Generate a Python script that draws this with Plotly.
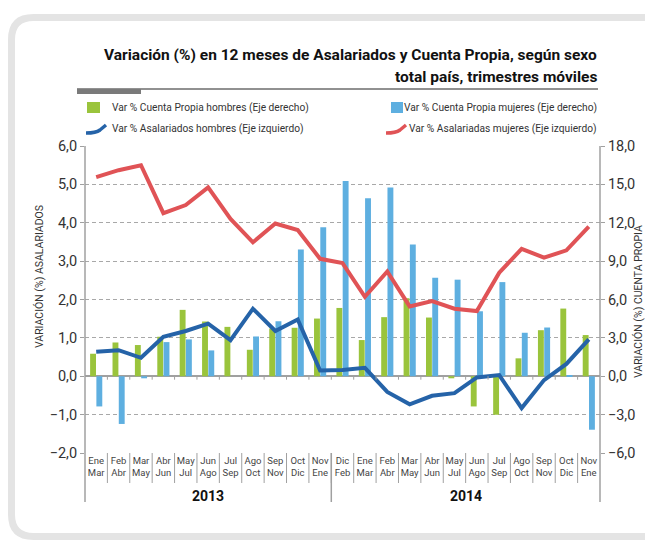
import plotly.graph_objects as go

# ---------------- data ----------------
mes_ini = ["Ene", "Feb", "Mar", "Abr", "May", "Jun", "Jul", "Ago", "Sep", "Oct", "Nov",
           "Dic", "Ene", "Feb", "Mar", "Abr", "May", "Jun", "Jul", "Ago", "Sep", "Oct", "Nov"]
mes_fin = ["Mar", "Abr", "May", "Jun", "Jul", "Ago", "Sep", "Oct", "Nov", "Dic", "Ene",
           "Feb", "Mar", "Abr", "May", "Jun", "Jul", "Ago", "Sep", "Oct", "Nov", "Dic", "Ene"]
years = ["2013", "2014"]
year_counts = [11, 12]

# Left axis (Asalariados)
asal_hombres = [0.64, 0.68, 0.48, 1.03, 1.18, 1.37, 0.94, 1.76, 1.18, 1.48, 0.15, 0.16,
                0.22, -0.41, -0.73, -0.51, -0.44, -0.03, 0.03, -0.83, -0.10, 0.32, 0.96]
asal_mujeres = [5.19, 5.37, 5.50, 4.25, 4.46, 4.92, 4.10, 3.49, 3.98, 3.81, 3.06, 2.95,
                2.07, 2.73, 1.82, 1.96, 1.76, 1.70, 2.70, 3.32, 3.09, 3.28, 3.90]
# Right axis (Cuenta Propia)
cp_hombres = [1.76, 2.64, 2.44, 3.09, 5.19, 4.28, 3.86, 2.07, 3.73, 3.79, 4.51, 5.34,
              2.83, 4.62, 6.10, 4.59, -0.16, -2.36, -3.01, 1.40, 3.60, 5.29, 3.22]
cp_mujeres = [-2.36, -3.73, -0.16, 2.67, 2.88, 2.02, 0.0, 3.11, 4.30, 9.91, 11.64, 15.27,
              13.92, 14.75, 10.29, 7.70, 7.55, 5.08, 7.36, 3.40, 3.81, 0.10, -4.18]

left_range = [-2, 6]
right_range = [-6, 18]

title_l1 = "Variación (%) en 12 meses de Asalariados y Cuenta Propia, según sexo"
title_l2 = "total país, trimestres móviles"
leg_names = ["Var % Cuenta Propia hombres (Eje derecho)",
             "Var % Cuenta Propia mujeres (Eje derecho)",
             "Var % Asalariados hombres (Eje izquierdo)",
             "Var % Asalariadas mujeres (Eje izquierdo)"]

# ---------------- styling ----------------
FONT = "Roboto, Liberation Sans, sans-serif"
GREEN = "#9ac43c"
LBLUE = "#5eafe0"
DBLUE = "#2563a8"
RED = "#e05356"
GRID = "#a8a8a8"
AX = "#a0a0a0"

# page body adds an 8px offset; figure sized to fill the remaining window
OFF = 8
W, H = 653 - OFF, 540 - OFF
PLOT_X0, PLOT_X1, PLOT_Y0, PLOT_Y1 = 85, 600, 146, 453   # window pixels
L, T = PLOT_X0 - OFF, PLOT_Y0 - OFF
R, B = W - (PLOT_X1 - OFF), H - (PLOT_Y1 - OFF)
PW, PH = PLOT_X1 - PLOT_X0, PLOT_Y1 - PLOT_Y0


def px(x):
    return (x - PLOT_X0) / PW


def py(y):
    return (PLOT_Y1 - y) / PH


n = len(mes_ini)
xs = list(range(n))

fig = go.Figure()
fig.add_trace(go.Bar(x=xs, y=cp_hombres, name=leg_names[0], marker_color=GREEN,
                     marker_line_width=0, yaxis="y"))
fig.add_trace(go.Bar(x=xs, y=cp_mujeres, name=leg_names[1], marker_color=LBLUE,
                     marker_line_width=0, yaxis="y"))
fig.add_trace(go.Scatter(x=xs, y=asal_hombres, name=leg_names[2], mode="lines",
                         line=dict(color=DBLUE, width=4), yaxis="y2"))
fig.add_trace(go.Scatter(x=xs, y=asal_mujeres, name=leg_names[3], mode="lines",
                         line=dict(color=RED, width=4), yaxis="y2"))

shapes = []
annotations = []


def note(x, y, text, font, xref="paper", xanchor="center", angle=0):
    annotations.append(dict(x=x, y=y, xref=xref, yref="paper", text=text,
                            showarrow=False, font=font, xanchor=xanchor,
                            yanchor="middle", textangle=angle))


# frame
fx0, fy0, fy1, rr = 11.5, 17.5, 536.5, 22
path = (f"M {px(700)},{py(fy0)} L {px(fx0 + rr)},{py(fy0)} "
        f"Q {px(fx0)},{py(fy0)} {px(fx0)},{py(fy0 + rr)} "
        f"L {px(fx0)},{py(fy1 - rr)} Q {px(fx0)},{py(fy1)} {px(fx0 + rr)},{py(fy1)} "
        f"L {px(700)},{py(fy1)}")
shapes.append(dict(type="path", xref="paper", yref="paper", path=path,
                   line=dict(color="#e4e4e4", width=7), layer="below"))

# title rule
shapes.append(dict(type="line", xref="paper", yref="paper", x0=px(77), x1=px(598),
                   y0=py(89), y1=py(89), line=dict(color="#222", width=1)))
shapes.append(dict(type="rect", xref="paper", yref="paper", x0=px(77), x1=px(141),
                   y0=py(94), y1=py(89), fillcolor="#7a7a7a", line_width=0))

# axis lines extended
for xa in (0, 1):
    shapes.append(dict(type="line", xref="paper", yref="paper", x0=xa, x1=xa,
                       y0=1, y1=py(502), line=dict(color=AX, width=1.5)))

# category separators below plot & ticks on zero line
for i in range(1, n):
    shapes.append(dict(type="line", xref="x", yref="paper", x0=i - 0.5, x1=i - 0.5,
                       y0=0, y1=py(483), line=dict(color=AX, width=1)))
    shapes.append(dict(type="line", xref="x", yref="y2", x0=i - 0.5, x1=i - 0.5,
                       y0=0, y1=-0.09, line=dict(color=AX, width=1)))
# year separator
split = year_counts[0] - 0.5
shapes.append(dict(type="line", xref="x", yref="paper", x0=split, x1=split,
                   y0=0, y1=py(502), line=dict(color=AX, width=1.5)))

# year labels
start = 0
for yr, cnt in zip(years, year_counts):
    note(start + (cnt - 1) / 2, py(496), f"<b>{yr}</b>",
         dict(family=FONT, size=14, color="#111"), xref="x")
    start += cnt

# title
TTF = dict(family=FONT, size=15.5, color="#111")
note(px(599), py(55), f"<b>{title_l1}</b>", TTF, xanchor="right")
note(px(599), py(77), f"<b>{title_l2}</b>", TTF, xanchor="right")

# legend (custom)
LF = dict(family=FONT, size=10.2, color="#333")
shapes.append(dict(type="rect", xref="paper", yref="paper", x0=px(87), x1=px(100),
                   y0=py(113), y1=py(102), fillcolor=GREEN, line_width=0))
note(px(110), py(108), leg_names[0], LF, xanchor="left")
shapes.append(dict(type="rect", xref="paper", yref="paper", x0=px(391), x1=px(403),
                   y0=py(113), y1=py(102), fillcolor=LBLUE, line_width=0))
note(px(599), py(108), leg_names[1], LF, xanchor="right")


def swoosh(x0, y0, color):
    p = (f"M {px(x0)},{py(y0 + 6)} Q {px(x0 + 10)},{py(y0 + 6)} {px(x0 + 14)},{py(y0 + 3)} "
         f"L {px(x0 + 20)},{py(y0 - 2)}")
    return dict(type="path", xref="paper", yref="paper", path=p,
                line=dict(color=color, width=3.5))


shapes.append(swoosh(86, 127, DBLUE))
note(px(110), py(129), leg_names[2], LF, xanchor="left")
shapes.append(swoosh(386, 127, RED))
note(px(599), py(129), leg_names[3], LF, xanchor="right")

# axis titles
ATF = dict(family=FONT, size=10.5, color="#333")
note(px(39), py(277), "VARIACIÓN (%) ASALARIADOS", ATF, angle=-90)
note(px(638), py(302), "VARIACIÓN (%) CUENTA PROPIA", ATF, angle=-90)

TF = dict(family=FONT, size=14.5, color="#333")
fig.update_layout(
    width=W, height=H,
    margin=dict(l=L, r=R, t=T, b=B, pad=0),
    paper_bgcolor="white", plot_bgcolor="white",
    showlegend=False,
    separators=",.",
    barmode="group", bargap=0.44, bargroupgap=0.06,
    xaxis=dict(range=[-0.5, n - 0.5], tickvals=xs, tickangle=0,
               ticktext=[f"{a}<br>{b}" for a, b in zip(mes_ini, mes_fin)],
               tickfont=dict(family=FONT, size=9.5, color="#444"),
               showgrid=False, zeroline=False, showline=False, ticks=""),
    yaxis=dict(range=right_range, dtick=3, tick0=0, side="right", tickformat=".1f",
               tickfont=TF, showgrid=True, gridcolor=GRID, griddash="4px,3px",
               gridwidth=1, zeroline=True, zerolinecolor=AX, zerolinewidth=1.5,
               showline=False, ticks="outside", ticklen=4, tickcolor=AX),
    yaxis2=dict(range=left_range, dtick=1, tick0=0, side="left", overlaying="y",
                tickformat=".1f", tickfont=TF, showgrid=False, zeroline=False,
                showline=False, ticks="outside", ticklen=4, tickcolor=AX),
    shapes=shapes, annotations=annotations,
)

fig.write_html("out.html")
